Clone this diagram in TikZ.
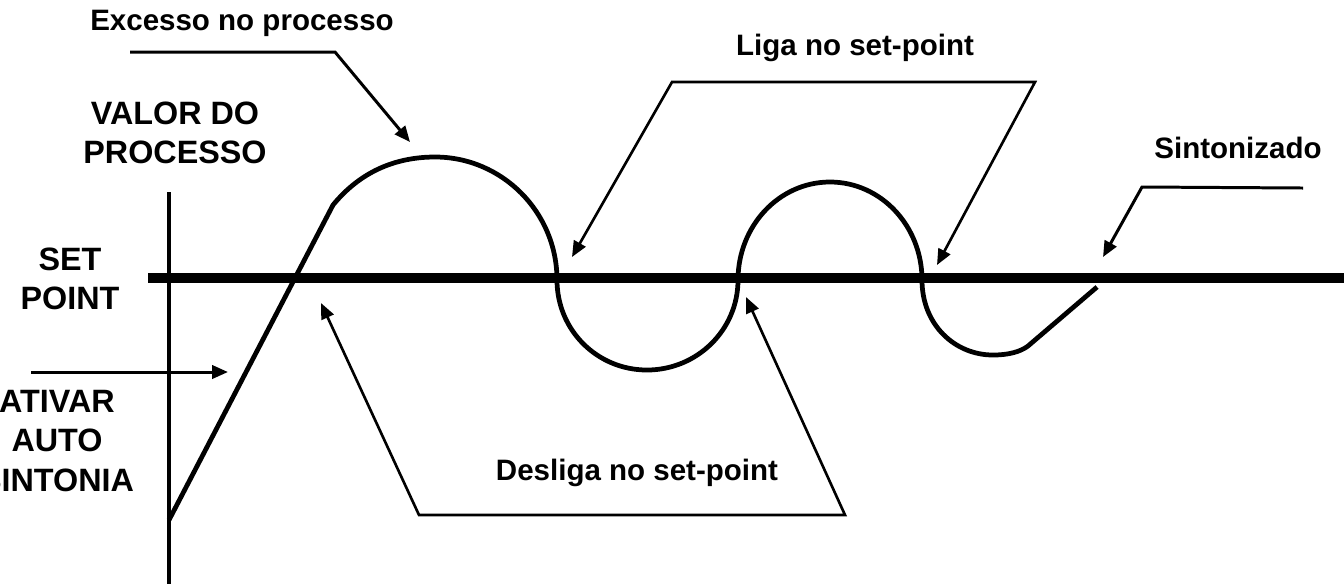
\documentclass[tikz,border=0pt]{standalone}
\usepackage{fontspec}
\setmainfont{Liberation Sans}
\usetikzlibrary{arrows.meta, positioning}

\begin{document}
\begin{tikzpicture}[
    x=0.02cm, y=-0.02cm,
    title/.style={font=\fontsize{18.4}{22.5}\selectfont\bfseries, align=center, inner sep=0pt},
    note/.style={font=\fontsize{16.8}{20}\selectfont\bfseries, inner sep=0pt},
    curve/.style={line width=2.7pt, line join=round},
    setline/.style={line width=5.6pt},
    axis/.style={line width=2.8pt},
    arrow/.style={-{Triangle[length=9pt,width=7.5pt]}, line width=1.7pt},
    twoway/.style={{Triangle[length=9pt,width=7.5pt]}-{Triangle[length=9pt,width=7.5pt]}, line width=1.5pt}
]
\clip (0,0) rectangle (1344,583);

% texts
\node[note] (excesso) at (242,23) {Excesso no processo};
\node[note] (liga) at (855,48) {Liga no set-point};
\node[note] (sinton) at (1238,148) {Sintonizado};
\node[note] (desliga) at (637,473) {Desliga no set-point};
\node[title] (valor) at (175,133) {VALOR DO\\PROCESSO};
\node[title] (setpt) at (70,279) {SET\\POINT};
\node[title] (ativar) at (57,441) {ATIVAR\\AUTO\\SINTONIA};

% axis and set point
\coordinate (axtop) at (169,192);
\coordinate (axbot) at (169,590);
\coordinate (spleft) at (148,278);
\coordinate (spright) at (1344,278);
\draw[axis] (axtop) -- (axbot);
\draw[setline] (spleft) -- (spright);

% process value
\coordinate (start) at (169,520);
\coordinate (kink) at (333,205);
\coordinate (peak1) at (435,157);
\coordinate (cross1) at (557,280);
\coordinate (low1) at (647,370);
\coordinate (cross2) at (738,280);
\coordinate (peak2) at (830,182);
\coordinate (cross3) at (922,280);
\coordinate (low2) at (993,355);
\coordinate (bend) at (1028,346);
\coordinate (tuned) at (1097,287);
\draw[curve] (start) -- (kink)
    .. controls (360,172) and (395,157) .. (peak1)
    .. controls (502,157) and (557,212) .. (cross1)
    .. controls (557,330) and (597,370) .. (low1)
    .. controls (697,370) and (738,330) .. (cross2)
    .. controls (738,226) and (779,182) .. (peak2)
    .. controls (881,182) and (922,226) .. (cross3)
    .. controls (922,325) and (955,355) .. (low2)
    .. controls (1008,355) and (1020,352) .. (bend)
    -- (tuned);

% leaders
\coordinate (exc-a) at (130,52);
\coordinate (exc-b) at (335,52);
\coordinate (exc-tip) at (410,142);
\draw[arrow] (exc-a) -- (exc-b) -- (exc-tip);

\coordinate (liga-l) at (672,82);
\coordinate (liga-r) at (1035,82);
\coordinate (liga-ltip) at (572,257);
\coordinate (liga-rtip) at (937,265);
\draw[twoway] (liga-ltip) -- (liga-l) -- (liga-r) -- (liga-rtip);

\coordinate (sin-a) at (1303,188);
\coordinate (sin-b) at (1142,187);
\coordinate (sin-tip) at (1103,257);
\draw[arrow] (sin-a) -- (sin-b) -- (sin-tip);

\coordinate (des-l) at (419,515);
\coordinate (des-r) at (845,515);
\coordinate (des-ltip) at (321,303);
\coordinate (des-rtip) at (746,297);
\draw[twoway] (des-ltip) -- (des-l) -- (des-r) -- (des-rtip);

\coordinate (atv-a) at (31,372);
\coordinate (atv-tip) at (228,372);
\draw[arrow] (atv-a) -- (atv-tip);
\end{tikzpicture}
\end{document}
